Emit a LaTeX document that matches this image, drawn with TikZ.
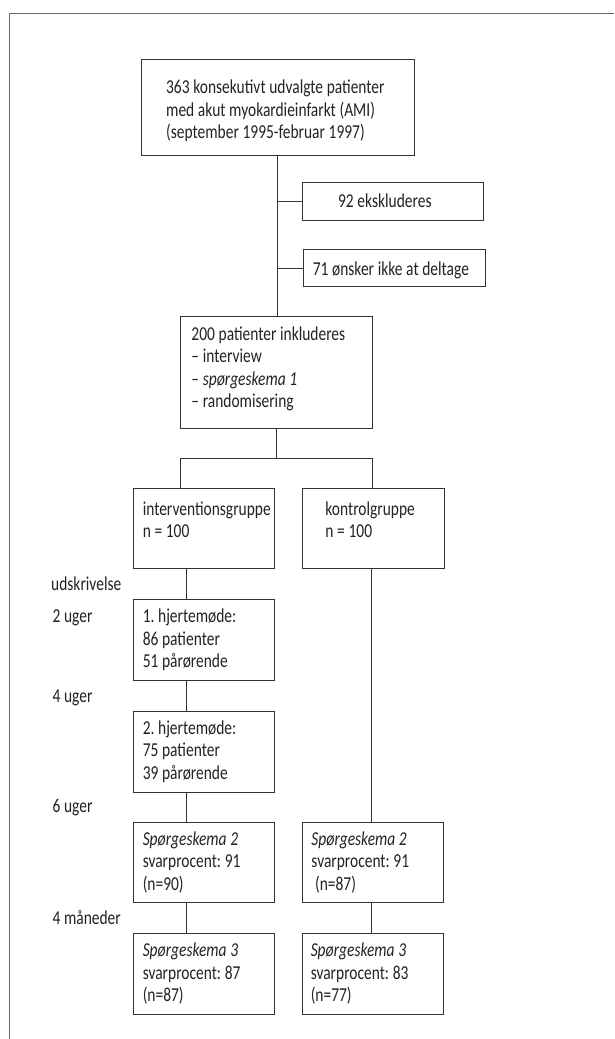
\documentclass[tikz,border=0pt]{standalone}
\usepackage{fontspec}
\setmainfont{Carlito}[FakeStretch=0.785, WordSpace=1.05]
\usepackage{tikz}

\definecolor{streg}{HTML}{333333}
\definecolor{skrift}{HTML}{222222}
\newcommand{\tekst}{\fontsize{19.7pt}{22.5pt}\selectfont\frenchspacing}

\tikzset{
  kasse/.style={shape=rectangle, draw=streg, line width=0.9pt, anchor=north west, inner sep=0pt, align=flush left, font=\tekst, text=skrift},
  indryk/.style={execute at begin node={\leftskip=#1pt}},
  trin/.style={kasse, text width=141pt, text height=23pt, text depth=57.5pt, indryk=#1},
  tid/.style={anchor=base west, inner sep=0pt, font=\tekst, text=skrift},
  linje/.style={draw=streg, line width=0.9pt},
}

\begin{document}
\begin{tikzpicture}[x=1pt,y=-1pt]
\useasboundingbox (0,0) rectangle (614,1039);
\draw[draw=black!60, line width=1.4pt] (9.5,1039) -- (9.5,13.5) -- (614,13.5);

\node[kasse, text width=273.3pt, text height=34pt, text depth=62pt, indryk=25] (AMI) at (140.7,59.3) {363 konsekutivt udvalgte patienter\\med akut myokardieinfarkt (AMI)\\(september 1995-februar 1997)};
\node[kasse, text width=181pt, text height=25pt, text depth=13pt, indryk=35.7] (Ex1) at (302,181.7) {92 ekskluderes};
\node[kasse, text width=182.3pt, text height=25.7pt, text depth=11.3pt, indryk=9.3] (Ex2) at (303,249.3) {71 ønsker ikke at deltage};
\node[kasse, text width=191.7pt, text height=24pt, text depth=88.3pt, indryk=11] (Inkl) at (180,316) {200 patienter inkluderes\\– interview\\– \textit{spørgeskema 1}\\– randomisering};
\node[kasse, text width=141pt, text height=26.5pt, text depth=53.5pt, indryk=9] (Int) at (133.3,488.3) {interventionsgruppe\\n = 100};
\node[kasse, text width=141.4pt, text height=26.5pt, text depth=53.5pt, indryk=22.7] (Kon) at (302.3,488.3) {kontrolgruppe\\n = 100};
\node[trin=9] (HM1) at (133.3,599.3) {1. hjertemøde:\\86 patienter\\51 pårørende};
\node[trin=9] (HM2) at (133.3,711) {2. hjertemøde:\\75 patienter\\39 pårørende};
\node[trin=9] (SpA2) at (133.3,821.7) {\textit{Spørgeskema 2}\\svarprocent: 91\\(n=90)};
\node[trin=8.7] (SpK2) at (302.3,821.7) {\textit{Spørgeskema 2}\\svarprocent: 91\\\ (n=87)};
\node[trin=9] (SpA3) at (133.3,933.3) {\textit{Spørgeskema 3}\\svarprocent: 87\\(n=87)};
\node[trin=8] (SpK3) at (302.3,933.3) {\textit{Spørgeskema 3}\\svarprocent: 83\\(n=77)};

\node[tid] (Udskr) at (51,590) {udskrivelse};
\node[tid] (Uge2) at (52.3,622.7) {2 uger};
\node[tid] (Uge4) at (52.3,702.5) {4 uger};
\node[tid] (Uge6) at (52.3,812.5) {6 uger};
\node[tid] (Mdr4) at (52.3,924) {4 måneder};

\coordinate (Del) at (275.3,458);
\coordinate (ISpor) at (186.3,0);
\coordinate (KSpor) at (371.3,0);

\path[linje] (AMI.south) edge (AMI.south |- Inkl.north);
\path[linje] (Ex1.west) edge (Ex1.west -| AMI.south);
\path[linje] (Ex2.west) edge (Ex2.west -| AMI.south);
\path[linje] (Inkl.south) edge (Inkl.south |- Del);
\draw[linje] (Inkl.west |- Int.north) -- (Inkl.west |- Del) -- (Inkl.east |- Del) -- (Inkl.east |- Kon.north);
\path[linje] (Int.south -| ISpor) edge (HM1.north -| ISpor);
\path[linje] (HM1.south -| ISpor) edge (HM2.north -| ISpor);
\path[linje] (HM2.south -| ISpor) edge (SpA2.north -| ISpor);
\path[linje] (SpA2.south -| ISpor) edge (SpA3.north -| ISpor);
\path[linje] (Kon.south -| KSpor) edge (SpK2.north -| KSpor);
\path[linje] (SpK2.south -| KSpor) edge (SpK3.north -| KSpor);
\end{tikzpicture}
\end{document}
